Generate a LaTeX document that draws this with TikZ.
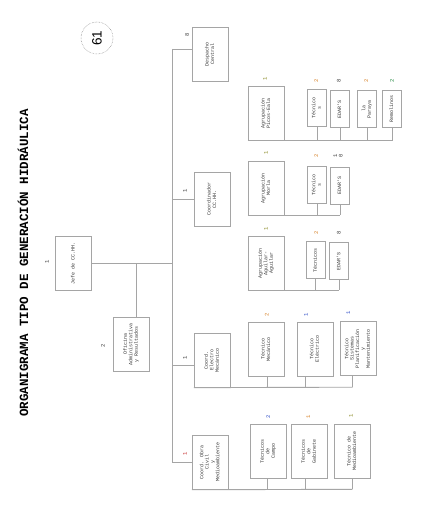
\documentclass[tikz,border=0pt]{standalone}
\usepackage{fontspec}
\setmainfont{Liberation Sans}
\newfontfamily\monof{Liberation Mono}
\usetikzlibrary{calc}
\definecolor{ln}{RGB}{165,165,165}
\definecolor{tx}{RGB}{55,55,55}
\definecolor{cor}{RGB}{215,130,40}
\definecolor{cbl}{RGB}{50,80,200}
\definecolor{col}{RGB}{140,140,40}
\definecolor{cgr}{RGB}{40,140,70}
\definecolor{crd}{RGB}{200,50,50}
\definecolor{cdk}{RGB}{60,60,60}
\newcommand\rtx[1]{\rotatebox{90}{\begin{tabular}{@{}c@{}}#1\end{tabular}}}
\begin{document}
\begin{tikzpicture}[x=1pt,y=-1pt,
  box/.style={draw=ln, line width=0.9pt, minimum width=36pt, minimum height=54pt, inner sep=0pt, font=\monof\fontsize{5}{5.4}\selectfont, text=tx},
  sbox/.style={box, minimum width=19.4pt, minimum height=37.4pt},
  num/.style={rotate=90, font=\monof\fontsize{5.5}{5.5}\selectfont, inner sep=0pt},
  conn/.style={draw=ln, line width=0.9pt}]
\fill[white] (0,0) rectangle (422,508);
\useasboundingbox (0,0) rectangle (422,508);

% title and page number
\node[rotate=90, font=\monof\bfseries\fontsize{12.5}{12.5}\selectfont] (title) at (23,263) {ORGANIGRAMA TIPO DE GENERACIÓN HIDRÁULICA};
\node[circle, draw=gray, densely dotted, line width=0.5pt, minimum size=32pt, rotate=90, font=\fontsize{13.5}{13.5}\selectfont, inner sep=0pt] (pg) at (97,38) {61};

% boxes
\node[box] (jefe) at (73.5,263) {\rtx{Jefe de CC.HH.}};
\node[box] (ofi) at (131.3,344) {\rtx{Oficina\\Administrativa\\y Resultados}};
\node[box] (desp) at (210.3,54.2) {\rtx{Despacho\\Central}};
\node[box] (coord) at (212.3,199.2) {\rtx{Coordinador\\CC.HH.}};
\node[box] (elec) at (212.3,360.2) {\rtx{Coord.\\Electro\\Mecánico}};
\node[box] (obra) at (210.3,462.3) {\rtx{Coord. Obra\\Civil\\y\\Medioambiente}};
\node[box] (picos) at (266.3,113.2) {\rtx{Agrupación\\Picos-Eala}};
\node[box] (morla) at (266.3,188) {\rtx{Agrupación\\Morla}};
\node[box] (agui) at (266.3,263) {\rtx{Agrupación\\Aguilar-\\Aguilar}};
\node[sbox] (t1) at (317,108) {\rtx{Técnico\\s}};
\node[sbox] (e1) at (340,109) {\rtx{EDAR'S}};
\node[sbox] (par) at (367,109) {\rtx{la\\Paraya}};
\node[sbox] (rem) at (392,109) {\rtx{Remolinos}};
\node[sbox] (t2) at (317,184.7) {\rtx{Técnico\\s}};
\node[sbox] (e2) at (340,185.8) {\rtx{EDAR'S}};
\node[sbox] (t3) at (315.7,260.2) {\rtx{Técnicos}};
\node[sbox] (e3) at (339.2,261.2) {\rtx{EDAR'S}};
\node[box] (mec) at (266.3,349.3) {\rtx{Técnico\\Mecánico}};
\node[box] (ele) at (315,349.3) {\rtx{Técnico\\Eléctrico}};
\node[box] (sis) at (358,348.5) {\rtx{Técnico\\Sistemas\\Planificación\\y\\Mantenimiento}};
\node[box] (campo) at (268.3,451.3) {\rtx{Técnicos\\de\\Campo}};
\node[box] (gab) at (309.3,451.3) {\rtx{Técnicos\\de\\Gabinete}};
\node[box] (medio) at (352.3,451.3) {\rtx{Técnico de\\Medioambiente}};

% numbers
\node[num, text=cdk] (n1) at (47,262) {1};
\node[num, text=cdk] (n2) at (103,346) {2};
\node[num, text=cdk] (n3) at (187,35) {8};
\node[num, text=cdk] (n4) at (185,191) {1};
\node[num, text=cdk] (n5) at (185,358) {1};
\node[num, text=crd] (n6) at (185,454) {1};
\node[num, text=col] (n7) at (265,79) {1};
\node[num, text=col] (n8) at (266,153) {1};
\node[num, text=col] (n9) at (266,229) {1};
\node[num, text=cor] (n10) at (316.3,80.7) {2};
\node[num, text=cdk] (n11) at (338.7,80.7) {8};
\node[num, text=cor] (n12) at (366.3,80.7) {2};
\node[num, text=cgr] (n13) at (392,80.7) {2};
\node[num, text=cor] (n14) at (316.3,155.7) {2};
\node[num, text=cdk] (n15) at (338.7,155.7) {\begin{tabular}{@{}c@{}}1\\0\end{tabular}};
\node[num, text=cor] (n16) at (316.3,233.3) {2};
\node[num, text=cdk] (n17) at (338.7,233.3) {8};
\node[num, text=cor] (n18) at (266.7,315) {2};
\node[num, text=cbl] (n19) at (306,315) {1};
\node[num, text=cbl] (n20) at (348.3,313.3) {1};
\node[num, text=cbl] (n21) at (268.3,417.3) {2};
\node[num, text=cor] (n22) at (308.3,416.7) {1};
\node[num, text=col] (n23) at (351,416) {1};

% trunk
\coordinate (vtop) at (172,49);
\coordinate (vbot) at (172,462.3);
\coordinate (vj) at (172,263);
\coordinate (vo) at (136,263);
\coordinate (ve) at (172,365.3);
\draw[conn] (jefe.east) -- (vj);
\draw[conn] (vtop) -- (vbot);
\draw[conn] (vo) -- (vo |- ofi.north);
\draw[conn] (vtop) -- (vtop -| desp.west);
\draw[conn] (coord.west -| vtop) -- (coord.west);
\draw[conn] (ve) -- (ve -| elec.west);
\draw[conn] (vbot) -- (obra.west);

% buses of agrupaciones
\draw[conn] (picos.south west) -- (picos.south west -| rem.south);
\foreach \n in {t1,e1,par,rem} \draw[conn] (\n.south) -- (\n.south |- picos.south);
\draw[conn] (morla.south west) -- (morla.south west -| e2.south);
\foreach \n in {t2,e2} \draw[conn] (\n.south) -- (\n.south |- morla.south);
\draw[conn] (agui.south west) -- (agui.south west -| e3.south);
\foreach \n in {t3,e3} \draw[conn] (\n.south) -- (\n.south |- agui.south);

% electro bus
\coordinate (smec) at (267.3,387.2);
\coordinate (sele) at (305.7,387.2);
\coordinate (ssis) at (352.7,387.2);
\draw[conn] (elec.south west) -- (ssis);
\draw[conn] (smec) -- (smec |- mec.south);
\draw[conn] (sele) -- (sele |- ele.south);
\draw[conn] (ssis) -- (ssis |- sis.south);

% obra bus
\coordinate (scam) at (267.3,489.3);
\coordinate (sgab) at (305.3,489.3);
\coordinate (smed) at (352.3,489.3);
\draw[conn] (obra.south west) -- (smed);
\draw[conn] (scam) -- (scam |- campo.south);
\draw[conn] (sgab) -- (sgab |- gab.south);
\draw[conn] (smed) -- (smed |- medio.south);
\end{tikzpicture}
\end{document}
